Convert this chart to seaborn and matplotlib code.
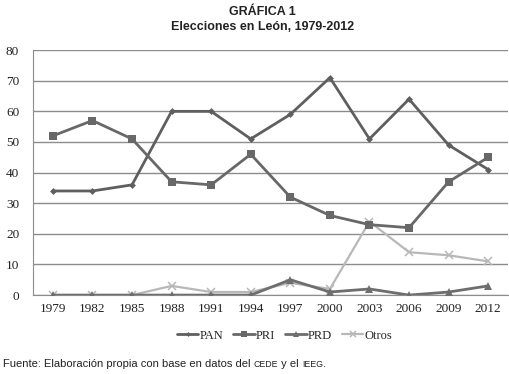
import matplotlib
matplotlib.use("Agg")
import matplotlib.pyplot as plt
import pandas as pd
import seaborn as sns

years = ['1979', '1982', '1985', '1988', '1991', '1994', '1997', '2000', '2003', '2006', '2009', '2012']
pan = [34, 34, 36, 60, 60, 51, 59, 71, 51, 64, 49, 41]
pri = [52, 57, 51, 37, 36, 46, 32, 26, 23, 22, 37, 45]
prd = [0, 0, 0, 0, 0, 0, 5, 1, 2, 0, 1, 3]
otros = [0, 0, 0, 3, 1, 1, 4, 2, 24, 14, 13, 11]
parties = ['PAN', 'PRI', 'PRD', 'Otros']

rows = []
for name, vals in zip(parties, [pan, pri, prd, otros]):
    for y, v in zip(years, vals):
        rows.append({'anio': y, 'voto': v, 'partido': name})
df = pd.DataFrame(rows)

sns.set_style('white')
plt.rcParams['font.family'] = ['Liberation Serif', 'DejaVu Serif']

fig = plt.figure(figsize=(5.09, 3.74), dpi=100)
ax = fig.add_axes([0.065, 0.211, 0.933, 0.655])

palette = {'PAN': '#5f5f5f', 'PRI': '#686868', 'PRD': '#6e6e6e', 'Otros': '#b8b8b8'}
markers = {'PAN': 'D', 'PRI': 's', 'PRD': '^', 'Otros': 'x'}
sizes_m = {'PAN': 3.5, 'PRI': 6, 'PRD': 5.5, 'Otros': 5.5}
widths = {'PAN': 2, 'PRI': 2, 'PRD': 2, 'Otros': 1.6}

for p in parties:
    sub = df[df['partido'] == p]
    sns.lineplot(data=sub, x='anio', y='voto', ax=ax, color=palette[p], marker=markers[p],
                 markersize=sizes_m[p], markeredgecolor=palette[p], markeredgewidth=1.1 if p == 'Otros' else 0,
                 linewidth=widths[p], label=p, zorder=3 if p != 'Otros' else 2)

ax.set_xlim(-0.5, 11.5)
ax.set_ylim(0, 80)
ax.set_yticks(range(0, 81, 10))
ax.yaxis.grid(True, color='#8c8c8c', linewidth=1)
ax.set_axisbelow(True)
for s in ['top', 'right']:
    ax.spines[s].set_visible(False)
ax.spines['left'].set_color('#8c8c8c')
ax.spines['bottom'].set_color('#8c8c8c')
ax.set_xlabel('')
ax.set_ylabel('')
ax.tick_params(axis='both', length=0, labelsize=9.5, colors='#222222', pad=6)
ax.tick_params(axis='y', pad=10)

leg = ax.legend(loc='upper center', bbox_to_anchor=(0.53, -0.095), ncol=4, frameon=False,
                fontsize=9, handlelength=1.7, columnspacing=0.8, handletextpad=0.1, markerscale=0.7)

sans = ['Liberation Sans', 'DejaVu Sans']
fig.text(0.515, 0.968, 'GRÁFICA 1', ha='center', va='center', fontsize=9,
         fontweight='bold', family=sans, color='#222222')
fig.text(0.515, 0.928, 'Elecciones en León, 1979-2012', ha='center', va='center', fontsize=9,
         fontweight='bold', family=sans, color='#222222')

parts = [('Fuente: Elaboración propia con base en datos del ', 8), ('CEDE', 6.3), (' y el ', 8), ('IEEG', 6.3), ('.', 8)]
x = 0.006
renderer = fig.canvas.get_renderer()
for txt, fs in parts:
    t = fig.text(x, 0.018, txt, ha='left', va='baseline', fontsize=fs, family=sans, color='#222222')
    bb = t.get_window_extent(renderer=renderer)
    x += bb.width / fig.bbox.width

fig.savefig('out.png', dpi=100)
